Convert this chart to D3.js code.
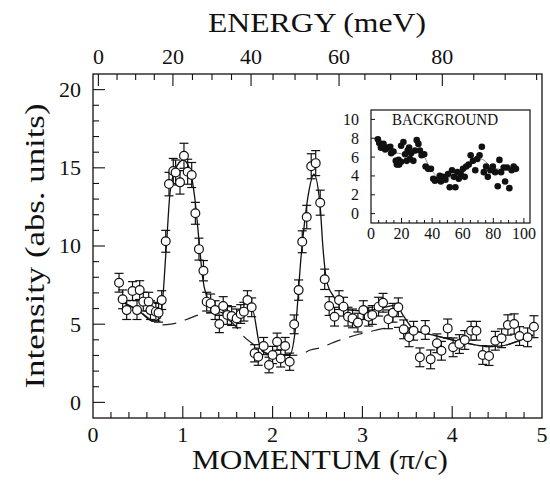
<!DOCTYPE html>
<html>
<head>
<meta charset="utf-8">
<script src="https://cdn.jsdelivr.net/npm/d3@7"></script>
<style>
  html, body { margin: 0; padding: 0; background: #fff; }
  svg text { font-family: "Liberation Serif", "DejaVu Serif", serif; fill: #111; }
</style>
</head>
<body>
<svg id="chart" width="550" height="482"></svg>
<script>
// Measured intensity vs momentum transfer (open circles with error bars)
const momentum = [0.29,0.33,0.375,0.44,0.49,0.52,0.56,0.62,0.64,0.70,0.73,0.765,
  0.81,0.846,0.894,0.92,0.969,1.013,1.054,1.099,1.14,1.18,1.23,1.266,1.31,1.36,1.407,
  1.45,1.496,1.544,1.60,1.645,1.68,1.72,1.767,1.80,1.84,1.90,1.96,2.00,2.05,2.09,2.14,
  2.19,2.24,2.29,2.33,2.38,2.43,2.48,2.53,2.58,2.63,2.69,2.74,2.79,2.84,2.89,2.95,3.01,
  3.07,3.11,3.18,3.23,3.29,3.34,3.40,3.46,3.52,3.57,3.64,3.70,3.76,3.83,3.88,3.95,4.01,
  4.08,4.14,4.21,4.27,4.34,4.41,4.48,4.55,4.62,4.69,4.75,4.84,4.91];
const intensity = [7.65,6.59,5.9,7.12,5.9,7.18,6.44,6.44,5.9,5.8,5.73,6.54,
  10.3,13.96,14.8,14.7,14.07,15.77,14.75,14.54,12.09,9.8,8.42,6.44,6.33,5.9,5.01,
  6.16,5.59,5.52,5.37,5.65,5.8,6.54,6.08,3.14,2.92,3.6,2.39,3.03,3.88,2.81,3.6,
  2.6,4.99,7.18,10.27,11.85,15.1,15.3,12.77,7.87,6.16,5.48,6.54,6.12,5.48,5.37,5.1,5.9,
  5.48,5.59,6.12,6.37,5.31,5.73,6.08,4.67,4.16,4.58,2.88,4.63,2.75,3.78,3.3,4.73,3.52,
  3.73,3.99,4.58,4.58,3.03,2.96,3.94,4.1,4.95,5.01,4.24,4.16,4.84];
const errors = [0.6,0.6,0.6,0.6,0.6,0.6,0.6,0.6,0.6,0.6,0.6,0.6,
  0.7,0.75,0.8,0.8,0.75,0.8,0.8,0.8,0.7,0.7,0.65,0.6,0.6,0.6,0.55,
  0.6,0.6,0.6,0.6,0.6,0.6,0.6,0.6,0.55,0.55,0.55,0.5,0.55,0.55,0.55,0.55,
  0.55,0.6,0.65,0.7,0.75,0.8,0.8,0.8,0.65,0.6,0.6,0.6,0.6,0.6,0.6,0.6,0.6,
  0.6,0.6,0.6,0.6,0.6,0.6,0.6,0.6,0.6,0.6,0.6,0.6,0.6,0.6,0.6,0.6,0.6,
  0.6,0.6,0.6,0.6,0.6,0.6,0.6,0.6,0.65,0.65,0.6,0.6,0.7];

// Fitted total (solid) and background (dashed) curves
const fitQ = [0.33,0.5,0.67,0.75,0.82,0.857,0.913,1.006,1.08,1.136,1.19,1.22,1.27,1.32,
  1.45,1.6,1.71,1.77,1.86,1.92,2.05,2.19,2.25,2.32,2.40,2.46,2.53,2.56,2.60,2.68,2.75,
  2.86,3.01,3.2,3.38,3.45,3.58,3.79,4.09,4.38,4.53,4.7,4.9];
const fitI = [6.4,5.9,5.2,5.4,10.27,13.37,14.86,15.5,14.86,12.94,9.74,8.0,6.7,6.12,
  5.7,5.59,5.8,6.01,3.56,3.14,3.0,3.03,4.5,9.5,13.37,14.6,12.5,9.95,7.82,6.76,6.22,
  5.9,5.86,6.01,6.22,5.6,4.63,4.3,3.88,3.6,3.6,3.85,4.3];
const bgQ = [0.33,0.5,0.67,0.78,0.87,0.95,1.04,1.21,1.35,1.45,1.6,1.68,1.77,1.9,2.05,
  2.2,2.3,2.42,2.55,2.68,2.81,2.97,3.08,3.25,3.4,3.55,3.79,4.09,4.38,4.53,4.7,4.9];
const bgI = [6.4,5.9,5.2,4.95,5.0,5.1,5.3,5.65,5.75,5.5,4.8,4.2,3.78,3.24,3.0,
  3.0,3.03,3.35,3.52,3.84,4.1,4.37,4.52,4.73,4.8,4.6,4.3,3.88,3.6,3.6,3.85,4.3];

// Energy scale along the top: energy (meV) and the momentum it corresponds to
const energyAnchors = [0, 20, 40, 60, 80, 100];
const momentumAtEnergy = [0.06, 0.89, 1.76, 2.74, 3.89, 5.29];
const energyTickLabels = [0, 20, 40, 60, 80];

// Inset: background counts vs energy
const bgEnergy = [4.5,5.4,6.5,8.2,9.3,11,12.6,13.2,14.7,16.2,16.9,18.4,18,19.7,19.7,21.2,
  22.3,23.4,24,24.9,25.5,26.2,27.7,28.8,29.9,31,32,33.1,34.8,35.7,37.4,39.2,40.7,41.8,
  43.5,45,45.7,47.2,48.7,50.4,51.5,53,54.3,55.2,56.5,57.4,58.7,60.2,61.3,62.3,63.9,65.2,
  66.7,68.2,69.5,71,72.5,73.8,75.3,76.4,78.1,79.7,81.2,82.9,84,85.1,86.8,87.7,89,90.5,
  92,93.3,94.8];
const bgCounts = [7.9,7.5,7.0,7.4,6.8,7.0,7.1,6.4,6.6,5.6,5.2,5.2,5.7,5.5,7.2,7.6,
  6.3,5.6,6.7,7.0,5.8,6.4,5.6,6.7,7.8,7.4,6.7,6.2,6.3,5.0,4.75,4.75,3.7,3.5,
  3.6,4.0,3.4,3.9,3.6,4.2,2.8,4.6,3.9,2.8,4.4,3.7,4.2,4.75,3.9,5.0,5.2,6.2,
  5.6,4.6,5.8,6.2,7.1,4.4,5.0,3.9,4.6,5.0,4.4,2.9,5.7,4.4,4.9,3.4,4.9,2.7,
  4.6,5.0,4.75];
const bgFitE = [4,15,25,32,40,45,55,65,72,80,95];
const bgFitC = [7.5,6.5,6.3,6.5,4.5,3.8,3.8,5.2,5.8,4.8,4.6];

const svg = d3.select("#chart");

// ---------- main panel ----------
const x = d3.scaleLinear().domain([0, 5]).range([93, 542]);
const y = d3.scaleLinear().domain([-1, 21]).range([418, 74]);
const eToQ = d3.scaleLinear().domain(energyAnchors).range(momentumAtEnergy);

const axisG = svg.append("g").attr("stroke", "#111").attr("stroke-width", 1.1);

// bottom ticks
d3.range(0, 26).forEach(i => {
  const v = i * 0.2;
  if (v <= 0 || v >= 5) return;
  const major = i % 5 === 0;
  axisG.append("line").attr("x1", x(v)).attr("x2", x(v))
    .attr("y1", 418).attr("y2", 418 - (major ? 12 : 6));
});
// left ticks
d3.range(0, 21).forEach(v => {
  const major = v % 5 === 0;
  axisG.append("line").attr("x1", 93).attr("x2", 93 + (major ? 12 : 6))
    .attr("y1", y(v)).attr("y2", y(v));
});
// top ticks (energy)
d3.range(0, 100, 5).forEach(e => {
  const major = e % 20 === 0;
  const px = x(eToQ(e));
  axisG.append("line").attr("x1", px).attr("x2", px)
    .attr("y1", 74).attr("y2", 74 + (major ? 12 : 6));
});

// frame
svg.append("rect").attr("x", 93).attr("y", 74).attr("width", 449).attr("height", 344)
  .attr("fill", "none").attr("stroke", "#111").attr("stroke-width", 1.3);

// tick labels
svg.append("g").selectAll("text").data(d3.range(0, 6)).join("text")
  .attr("x", d => x(d)).attr("y", 442).attr("text-anchor", "middle")
  .attr("font-size", 22).text(d => d);
svg.append("g").selectAll("text").data([0, 5, 10, 15, 20]).join("text")
  .attr("x", 81).attr("y", d => y(d)).attr("dy", "0.34em").attr("text-anchor", "end")
  .attr("font-size", 22).text(d => d);
svg.append("g").selectAll("text").data(energyTickLabels).join("text")
  .attr("x", d => x(eToQ(d))).attr("y", 64).attr("text-anchor", "middle")
  .attr("font-size", 22).text(d => d);

// axis titles
svg.append("text").attr("x", 317).attr("y", 32).attr("text-anchor", "middle")
  .attr("font-size", 27).attr("textLength", 218).attr("lengthAdjust", "spacingAndGlyphs")
  .text("ENERGY (meV)");
svg.append("text").attr("x", 320).attr("y", 469).attr("text-anchor", "middle")
  .attr("font-size", 27).attr("textLength", 256).attr("lengthAdjust", "spacingAndGlyphs")
  .text("MOMENTUM (\u03C0/c)");
svg.append("text").attr("transform", "translate(44,246) rotate(-90)")
  .attr("text-anchor", "middle").attr("font-size", 27)
  .attr("textLength", 285).attr("lengthAdjust", "spacingAndGlyphs")
  .text("Intensity (abs. units)");

// curves
const line = d3.line().curve(d3.curveMonotoneX);
svg.append("path")
  .attr("d", line(bgQ.map((q, i) => [x(q), y(bgI[i])])))
  .attr("fill", "none").attr("stroke", "#222").attr("stroke-width", 1.2)
  .attr("stroke-dasharray", "14,9");
svg.append("path")
  .attr("d", line(fitQ.map((q, i) => [x(q), y(fitI[i])])))
  .attr("fill", "none").attr("stroke", "#111").attr("stroke-width", 1.3);

// error bars
const pts = momentum.map((q, i) => ({ q, v: intensity[i], e: errors[i] }));
const eb = svg.append("g").attr("stroke", "#111").attr("stroke-width", 1.2);
pts.forEach(p => {
  const cx = x(p.q), y0 = y(p.v - p.e), y1 = y(p.v + p.e);
  eb.append("line").attr("x1", cx).attr("x2", cx).attr("y1", y0).attr("y2", y1);
  eb.append("line").attr("x1", cx - 4.5).attr("x2", cx + 4.5).attr("y1", y0).attr("y2", y0);
  eb.append("line").attr("x1", cx - 4.5).attr("x2", cx + 4.5).attr("y1", y1).attr("y2", y1);
});
svg.append("g").selectAll("circle").data(pts).join("circle")
  .attr("cx", d => x(d.q)).attr("cy", d => y(d.v)).attr("r", 4.4)
  .attr("fill", "#fff").attr("stroke", "#111").attr("stroke-width", 1.2);

// ---------- inset ----------
const ix = d3.scaleLinear().domain([0, 104]).range([371, 530]);
const iy = d3.scaleLinear().domain([-1, 11]).range([223, 110]);
const inset = svg.append("g");
inset.append("rect").attr("x", 371).attr("y", 110).attr("width", 159).attr("height", 113)
  .attr("fill", "#fff").attr("stroke", "#111").attr("stroke-width", 1.2);
const it = inset.append("g").attr("stroke", "#111").attr("stroke-width", 1);
d3.range(0, 11, 2).forEach(v => {
  it.append("line").attr("x1", 371).attr("x2", 375).attr("y1", iy(v)).attr("y2", iy(v));
});
d3.range(5, 104, 5).forEach(v => {
  const major = v % 20 === 0;
  it.append("line").attr("x1", ix(v)).attr("x2", ix(v))
    .attr("y1", 223).attr("y2", 223 - (major ? 5 : 3));
});
inset.append("g").selectAll("text").data(d3.range(0, 11, 2)).join("text")
  .attr("x", 359).attr("y", d => iy(d)).attr("dy", "0.34em").attr("text-anchor", "end")
  .attr("font-size", 16).text(d => d);
inset.append("g").selectAll("text").data(d3.range(0, 101, 20)).join("text")
  .attr("x", d => ix(d)).attr("y", 239).attr("text-anchor", "middle")
  .attr("font-size", 16).text(d => d);
inset.append("text").attr("x", 445).attr("y", 125).attr("text-anchor", "middle")
  .attr("font-size", 16).attr("textLength", 106).attr("lengthAdjust", "spacingAndGlyphs")
  .text("BACKGROUND");
inset.append("path")
  .attr("d", d3.line().curve(d3.curveMonotoneX)(bgFitE.map((e, i) => [ix(e), iy(bgFitC[i])])))
  .attr("fill", "none").attr("stroke", "#555").attr("stroke-width", 0.7);
inset.append("g").selectAll("circle").data(bgEnergy).join("circle")
  .attr("cx", d => ix(d)).attr("cy", (d, i) => iy(bgCounts[i])).attr("r", 3.3)
  .attr("fill", "#111");
</script>
</body>
</html>
